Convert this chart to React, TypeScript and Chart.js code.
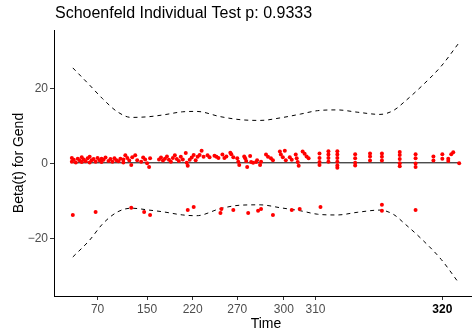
import { useEffect, useRef } from "react";
import { Chart, registerables } from "chart.js";

Chart.register(...registerables);

const FONT = '"Liberation Sans", Arial, Helvetica, sans-serif';
const titleText = "Schoenfeld Individual Test p: 0.9333";
const xTitle = "Time";
const yTitle = "Beta(t) for Gend";

// transformed-time positions of the axis ticks and their labels
const xTickPos = [44, 94, 140, 185, 232, 264, 392];
const xTickLabels = ["70", "150", "220", "270", "300", "310", "320"];
const yTicks = [-20, 0, 20];

// scaled Schoenfeld residuals (transformed time, beta(t))
const residTime = [
  18, 18, 20, 22, 24, 26, 28, 28, 30, 32, 34, 36, 36, 38, 40, 42, 44, 46, 48, 48, 50, 52, 55, 57, 59, 61, 63, 65, 67, 70, 70,
  72, 74, 76, 78, 79, 82, 84, 88, 90, 92, 94, 96, 97, 106, 108, 110, 112, 114, 116, 118, 120, 122, 124, 126, 128, 130, 133,
  134, 135, 137, 139, 141, 143, 145,
  147, 149, 151, 155, 157, 162, 164, 166, 170, 172, 174, 178, 179, 181, 185, 186, 187, 192, 193, 194, 195, 198, 199, 201,
  204, 205, 208, 209, 214, 216, 219, 221, 228, 229, 231, 233, 234, 238, 240, 244, 245, 246, 247, 251, 253, 255, 257, 268,
  268, 268, 268, 277, 277, 277, 277,
  286, 286, 286, 286, 286, 286, 304, 304, 304, 304, 319, 319, 319, 331, 331, 331, 349, 349, 349, 349, 349, 365, 365, 365,
  365, 383, 383, 392, 392, 398, 398, 403, 401, 409,
  19, 42, 78, 91, 97, 135, 141, 168, 169, 181, 196, 206, 209, 221, 240, 248, 269, 331, 331, 365,
];
const residBeta = [
  1.6, 0.6, 1.1, 0.4, 1.4, 0.9, 1.8, 0.5, 1.2, 0.7, 1.5, 0.4, 1.9, 1.0, 1.3, 0.6, 1.6, 1.0, 0.5, 1.4, 1.1, 1.7, 0.8, 1.3,
  0.6, 1.5, 1.0, 0.7, 1.4, 1.2, 0.4,
  2.3, 1.6, 0.9, -0.3, 1.8, 2.3, 1.0, 0.6, 1.7, 1.2, 0.2, -0.8, 1.5, 1.2, 1.7, 0.9, 1.4, 2.0, 1.1, 0.6, 1.6, 2.3, 1.3, 0.8,
  1.9, 1.2, 2.9, 0.3, -0.5, 1.1, 1.7, 2.4, 1.0, 1.9,
  2.4, 3.5, 1.9, 2.3, 1.8, 2.2, 1.9, 1.6, 2.5, 1.6, 2.0, 3.0, 2.6, 1.8, 1.5, 0.6, -0.3, 2.0, 1.5, 0.8, -0.8, 2.1, 0.5, 0.3,
  0.5, 1.0, -0.3, 0.6, 2.5, 1.9, 1.5, 1.0, 3.3, 2.5, 1.8, 3.5, 1.0, 1.8, 1.1, 2.5, 1.5, 0.5, -0.5, 3.3, 2.7, 2.0, 1.5, 2.8,
  1.6, 0.5, -0.3, 3.4, 2.5, 1.6, 0.6,
  3.4, 2.5, 1.6, 0.6, -0.4, -1.0, 2.6, 1.5, 0.3, -0.4, 2.8, 2.0, 0.9, 2.8, 1.9, 0.9, 3.2, 2.4, 1.3, 0.2, -0.6, 2.6, 1.5, 0.1,
  -0.8, 2.0, 0.9, 2.6, 1.4, 1.4, 0.8, 3.1, 2.6, 0.2,
  -13.6, -12.8, -11.7, -12.8, -13.6, -12.3, -11.5, -13.1, -12.0, -12.3, -13.1, -12.5, -12.0, -13.6, -12.3, -12.0, -11.5,
  -10.9, -12.5, -12.3,
];

// fitted beta(t) and its confidence band
const fitTime = [19, 409];
const fitBeta = [0.3, 0.3];
const curveTime = [19, 36, 49, 64, 78, 96, 111, 130, 144, 168, 188, 208, 229, 249, 266, 286, 306, 329, 343, 353, 371, 391, 408];
const upperCI = [25.6, 21.0, 17.4, 13.9, 12.4, 12.6, 13.1, 13.9, 14.0, 12.6, 11.8, 11.6, 12.3, 13.3, 14.2, 14.4, 13.8, 13.2, 14.3, 16.4, 20.7, 26.1, 32.0];
const lowerCI = [-24.8, -20.3, -16.0, -12.8, -11.8, -12.3, -12.8, -13.6, -13.8, -11.9, -11.0, -10.9, -11.7, -12.5, -13.4, -13.6, -12.9, -12.3, -13.5, -15.7, -20.0, -25.5, -31.5];

const toXY = (xs: number[], ys: number[]) => xs.map((x, i) => ({ x, y: ys[i] }));

const titlePlugin = {
  id: "ggTitle",
  afterDraw(chart: any) {
    const ctx = chart.ctx;
    ctx.save();
    ctx.font = `16px ${FONT}`;
    ctx.fillStyle = "#000";
    ctx.textBaseline = "middle";
    ctx.textAlign = "left";
    ctx.fillText(titleText, chart.chartArea.left + 1, 14);
    ctx.restore();
  },
};

export default function App() {
  const ref = useRef<HTMLCanvasElement | null>(null);

  useEffect(() => {
    if (!ref.current) return;
    const chart = new Chart(ref.current, {
      type: "scatter",
      data: {
        datasets: [
          {
            data: toXY(residTime, residBeta),
            backgroundColor: "#ff0000",
            borderWidth: 0,
            pointRadius: 2,
            order: 0,
          },
          {
            data: toXY(fitTime, fitBeta),
            showLine: true,
            borderColor: "#000",
            borderWidth: 1,
            pointRadius: 0,
            order: 1,
          },
          {
            data: toXY(curveTime, upperCI),
            showLine: true,
            borderColor: "#000",
            borderWidth: 1,
            borderDash: [4, 4],
            pointRadius: 0,
            cubicInterpolationMode: "monotone",
            order: 2,
          },
          {
            data: toXY(curveTime, lowerCI),
            showLine: true,
            borderColor: "#000",
            borderWidth: 1,
            borderDash: [4, 4],
            pointRadius: 0,
            cubicInterpolationMode: "monotone",
            order: 3,
          },
        ] as any,
      },
      options: {
        responsive: false,
        animation: false,
        devicePixelRatio: 1,
        layout: { padding: { top: 30, right: 0, left: 0, bottom: 0 } },
        plugins: { legend: { display: false }, tooltip: { enabled: false }, title: { display: false } },
        scales: {
          x: {
            type: "linear",
            min: 0,
            max: 428,
            afterBuildTicks: (s: any) => {
              s.ticks = xTickPos.map((v) => ({ value: v }));
            },
            afterFit: (s: any) => {
              s.height = 40;
            },
            ticks: {
              autoSkip: false,
              maxRotation: 0,
              padding: 2,
              color: (c: any) => (c.index === xTickPos.length - 1 ? "#000" : "#4d4d4d"),
              font: (c: any) => ({ size: 12, family: FONT, weight: c.index === xTickPos.length - 1 ? "bold" : "normal" }),
              callback: (v: any) => {
                const i = xTickPos.indexOf(Number(v));
                return i >= 0 ? xTickLabels[i] : "";
              },
            },
            grid: { drawOnChartArea: false, drawTicks: true, tickLength: 4, color: "#333" },
            border: { display: true, color: "#000", width: 1 },
            title: {
              display: true,
              text: xTitle,
              color: "#000",
              font: { size: 14, family: FONT, lineHeight: 1.2 },
              padding: { top: 0, bottom: 3.6 },
            },
          },
          y: {
            type: "linear",
            min: -35.2,
            max: 35.7,
            afterBuildTicks: (s: any) => {
              s.ticks = yTicks.map((v) => ({ value: v }));
            },
            afterFit: (s: any) => {
              s.width = 54;
            },
            ticks: {
              padding: 2,
              color: "#4d4d4d",
              font: { size: 12, family: FONT },
              callback: (v: any) => (Number(v) < 0 ? "\u2212" + Math.abs(Number(v)) : String(v)),
            },
            grid: { drawOnChartArea: false, drawTicks: true, tickLength: 4, color: "#333" },
            border: { display: true, color: "#000", width: 1 },
            title: {
              display: true,
              text: yTitle,
              color: "#000",
              font: { size: 14, family: FONT, lineHeight: 1.2 },
              padding: { top: 11, bottom: 0 },
            },
          },
        },
      } as any,
      plugins: [titlePlugin],
    });
    return () => chart.destroy();
  }, []);

  return (
    <div
      style={{
        position: "absolute",
        left: 0,
        top: 0,
        width: 472,
        height: 336,
        overflow: "hidden",
        background: "#fff",
      }}
    >
      <canvas ref={ref} width={482} height={336} style={{ display: "block", width: 482, height: 336 }} />
    </div>
  );
}
